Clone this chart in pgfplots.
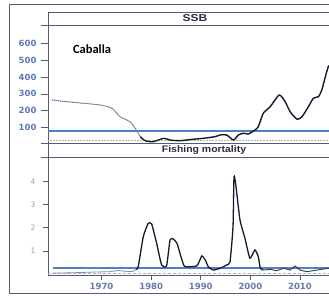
\documentclass[border=0pt]{standalone}
\usepackage{fontspec}
\setmainfont{DejaVu Sans}
\newfontfamily\lib{Liberation Sans}
\newfontfamily\carl{Carlito}
\usepackage{graphicx}
\usepackage{pgfplots}
\pgfplotsset{compat=1.18}
\definecolor{refblue}{rgb}{0.30,0.50,0.78}
\definecolor{framec}{rgb}{0.33,0.36,0.45}
\definecolor{ticklbl}{rgb}{0.35,0.48,0.72}
\definecolor{darkline}{rgb}{0.08,0.10,0.18}
\definecolor{earlyc}{rgb}{0.50,0.55,0.66}
\begin{document}
\begin{tikzpicture}
\useasboundingbox (0pt,0pt) rectangle (329pt,296pt);
\fill[white] (0pt,0pt) rectangle (329pt,296pt);
% outer frame
\draw[framec, line width=1pt] (330pt,2pt) -- (9pt,2pt) -- (9pt,291pt) -- (330pt,291pt);

% ---------- SSB panel ----------
\begin{axis}[at={(48pt,153pt)}, anchor=south west, scale only axis,
  width=281pt, height=118pt,
  xmin=1959.2, xmax=2015.85, ymin=9.5, ymax=707,
  axis x line*=bottom, axis y line*=left,
  axis line style={framec, line width=0.8pt, -},
  xtick=\empty, ytick={100,200,...,600},
  tick align=outside, major tick length=7pt,
  tick style={framec, line width=0.6pt},
  /pgf/number format/assume math mode=true,
  yticklabel style={font=\fontsize{8.5}{9}\selectfont\bfseries, text=ticklbl, xshift=-1pt},
  clip=false]
\addplot[gray!60, densely dotted, line width=0.5pt] coordinates {(1959.2,27) (2015.85,27)};
\addplot[refblue, line width=2pt] coordinates {(1959.2,80) (2015.85,80)};
\addplot[earlyc, line width=1pt, densely dotted, smooth, tension=0.4] coordinates {
(1960.0,264)(1961.6,258)(1965.7,246)(1969.7,234)(1972.1,215)(1973.7,165)(1975.7,136)(1976.8,96)(1977.8,47)};
\addplot[earlyc!80!black, line width=0.5pt, smooth, tension=0.4] coordinates {
(1960.0,264)(1961.6,258)(1965.7,246)(1969.7,234)(1972.1,215)(1973.7,165)(1975.7,136)(1976.8,96)(1977.8,47)};
\addplot[darkline, line width=1.4pt, smooth, tension=0.4] coordinates {
(1977.8,47)(1978.8,23)(1980.4,17)(1982.5,37)(1983.8,27)(1985.8,23)(1988.2,31)(1990.5,37)(1992.9,47)(1993.9,57)(1995.2,57)(1996.6,27)(1997.6,57)(1998.6,67)(1999.6,63)(2000.9,86)(2001.6,106)(2002.6,185)(2004.0,224)(2005.8,293)(2007.0,254)(2008.0,195)(2009.4,150)(2010.4,165)(2011.7,224)(2012.7,274)(2013.7,283)(2014.4,323)(2015.3,422)(2015.8,468)};
\end{axis}

% ---------- Fishing mortality panel ----------
\begin{axis}[at={(48pt,21pt)}, anchor=south west, scale only axis,
  width=281pt, height=118pt,
  xmin=1959.2, xmax=2015.85, ymin=-0.043, ymax=5.06,
  axis x line*=bottom, axis y line*=left,
  axis line style={framec, line width=0.8pt, -},
  xtick={1970,1980,...,2010}, ytick={1,2,3,4},
  tick align=outside, major tick length=5pt,
  tick style={framec, line width=0.6pt},
  /pgf/number format/assume math mode=true,
  /pgf/number format/1000 sep={},
  yticklabel style={font=\fontsize{7.5}{8}\selectfont, text=gray!75, xshift=-4pt},
  xticklabel style={font=\fontsize{8.5}{9}\selectfont\bfseries, text=ticklbl!80!gray},
  clip=false]
\addplot[gray!60, densely dashed, line width=0.5pt] coordinates {(1959.2,0.05) (2015.85,0.05)};
\addplot[refblue, line width=2pt] coordinates {(1960.2,0.26) (2015.85,0.26)};
\addplot[earlyc, line width=0.8pt] coordinates {
(1960.0,0.04)(1963.6,0.05)(1967.7,0.08)(1971.7,0.1)(1973.3,0.15)(1974.7,0.12)(1976.1,0.1)(1977.0,0.2)};
\addplot[darkline, line width=1.3pt, smooth, tension=0.3] coordinates {
(1977.0,0.2)(1977.4,0.32)(1978.4,1.61)(1979.4,2.19)(1980.1,2.16)(1981.1,1.33)(1982.1,0.39)(1983.1,0.35)(1983.8,1.47)(1984.4,1.52)(1985.2,1.33)(1986.2,0.61)(1986.8,0.32)(1989.2,0.35)(1990.2,0.78)(1990.9,0.61)(1991.5,0.32)(1992.5,0.17)(1993.9,0.25)(1995.2,0.39)(1995.9,0.53)(1996.5,2.05)(1996.7,4.21)(1997.1,3.78)(1997.9,2.34)(1998.9,1.55)(1999.9,0.68)(2000.9,1.04)(2001.6,0.75)(2002.0,0.25)(2002.6,0.17)};
\addplot[darkline!70!gray, line width=0.9pt] coordinates {
(2002.6,0.17)(2004.0,0.2)(2005.3,0.14)(2006.7,0.25)(2008.0,0.17)(2009.0,0.35)(2010.0,0.17)(2011.4,0.1)(2013.4,0.17)(2015.8,0.25)};
\end{axis}

% ---------- strip headers ----------
\draw[framec, line width=0.8pt] (48pt,284pt) -- (330pt,284pt);
\draw[framec, line width=0.8pt] (41pt,271pt) -- (330pt,271pt);
\draw[framec, line width=0.8pt] (48pt,271pt) -- (48pt,284pt);
\node[text=darkline!80!gray] at (195pt,277.5pt) {\lib\bfseries\fontsize{10}{11}\selectfont\scalebox{1.2}[1]{SSB}};
\draw[framec, line width=0.8pt] (41pt,153pt) -- (330pt,153pt);
\draw[framec, line width=0.8pt] (41pt,139pt) -- (330pt,139pt);
\draw[framec, line width=0.8pt] (48pt,139pt) -- (48pt,153pt);
\node[text=darkline!80!gray] at (204pt,146pt) {\lib\bfseries\fontsize{9.5}{10}\selectfont\scalebox{1.1}[1]{Fishing mortality}};
\node[text=black] at (92pt,247pt) {\carl\bfseries\fontsize{12.5}{13}\selectfont Caballa};
\end{tikzpicture}
\end{document}
